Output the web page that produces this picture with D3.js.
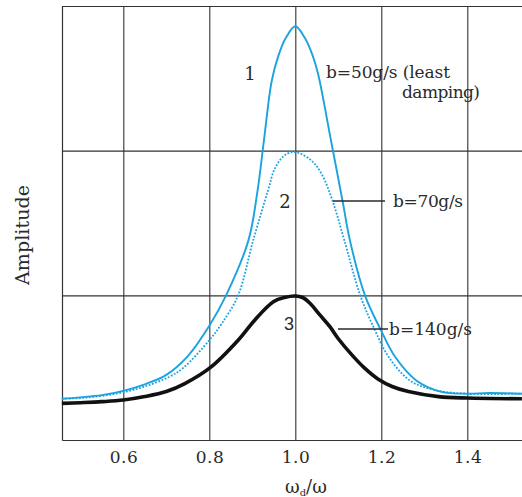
<!DOCTYPE html>
<html><head><meta charset="utf-8">
<script src="https://cdn.jsdelivr.net/npm/d3@7"></script>
<style>
body{margin:0;background:#fff}svg{display:block}
.srf{font-family:"DejaVu Serif","Liberation Serif","Noto Serif","Times New Roman",Times,serif}
</style>
</head><body>
<svg id="c" width="522" height="497"></svg>
<script>
// ---- data ----
const xTicks = [0.6, 0.8, 1.0, 1.2, 1.4];
const yGrid = [1, 2, 3];
const xLabels = ["0.6", "0.8", "1.0", "1.2", "1.4"];

// curve 1: b = 50 g/s (solid blue)
const x1 = [0.457,0.5,0.55,0.6,0.65,0.7,0.75,0.8,0.839,0.891,0.912,0.927,0.945,0.96,0.978,1.0,1.022,1.04,1.053,1.083,1.110,1.127,1.162,1.199,1.232,1.282,1.340,1.4,1.45,1.527];
const y1 = [0.285,0.295,0.31,0.34,0.385,0.45,0.58,0.79,1.0,1.38,1.72,2.07,2.48,2.65,2.78,2.86,2.78,2.66,2.53,2.07,1.65,1.38,1.0,0.76,0.575,0.41,0.333,0.32,0.325,0.32];

// curve 2: b = 70 g/s (dotted blue)
const x2 = [0.457,0.5,0.55,0.6,0.65,0.709,0.74,0.80,0.829,0.867,0.902,0.936,0.953,0.976,1.0,1.038,1.061,1.087,1.114,1.151,1.185,1.217,1.267,1.325,1.4,1.527];
const y2 = [0.285,0.29,0.305,0.33,0.37,0.44,0.50,0.69,0.805,1.0,1.38,1.72,1.88,1.97,1.99,1.93,1.84,1.65,1.38,1.0,0.76,0.575,0.41,0.345,0.32,0.32];

// curve 3: b = 140 g/s (thick black)
const x3 = [0.457,0.5,0.55,0.6,0.65,0.7,0.743,0.802,0.867,0.906,0.949,0.975,1.0,1.017,1.034,1.057,1.08,1.10,1.131,1.16,1.193,1.225,1.263,1.333,1.4,1.527];
const y3 = [0.253,0.258,0.265,0.276,0.30,0.335,0.39,0.50,0.69,0.83,0.955,0.985,0.995,0.985,0.945,0.865,0.785,0.70,0.59,0.50,0.42,0.37,0.335,0.30,0.29,0.285];

// ---- layout ----
const svg = d3.select("#c");
const L = 62, R = 522, T = 6, B = 440;
const x = d3.scaleLinear().domain([0.4574, 1.5272]).range([L, R]);
const y = d3.scaleLinear().domain([0, 3]).range([B, T]);
const blue = "#1aa3df";
const ink = "#2a2a2a";

// grid / axes
const gx = svg.append("g").attr("transform", `translate(0,${B})`)
  .call(d3.axisBottom(x).tickValues(xTicks).tickFormat((d,i)=>xLabels[i])
    .tickSize(-(B - T)).tickSizeOuter(0).tickPadding(10));
gx.attr("font-family", null);
gx.select(".domain").attr("stroke", "#333").attr("stroke-width", 1.2);
gx.selectAll(".tick line").attr("stroke", "#333").attr("stroke-width", 1.1);
gx.selectAll(".tick text").attr("class", "srf").attr("font-size", 17).attr("fill", ink)
  .attr("dy", "0.75em").attr("textLength", 28).attr("lengthAdjust", "spacing");

const gy = svg.append("g").attr("transform", `translate(${L},0)`)
  .call(d3.axisLeft(y).tickValues(yGrid).tickFormat("").tickSize(-(R - L)).tickSizeOuter(0));
gy.select(".domain").attr("stroke", "#333").attr("stroke-width", 1.2);
gy.selectAll(".tick line").attr("stroke", "#333").attr("stroke-width", 1.1);

// curves
const line = d3.line().curve(d3.curveCatmullRom.alpha(0.5)).x(d => x(d[0])).y(d => y(d[1]));
const pts = (xs, ys) => xs.map((v, i) => [v, ys[i]]);

svg.append("path").attr("d", line(pts(x2, y2))).attr("fill", "none")
  .attr("stroke", blue).attr("stroke-width", 1.8).attr("stroke-dasharray", "1.8,1.6");
svg.append("path").attr("d", line(pts(x1, y1))).attr("fill", "none")
  .attr("stroke", blue).attr("stroke-width", 1.9);
svg.append("path").attr("d", line(pts(x3, y3))).attr("fill", "none")
  .attr("stroke", "#111").attr("stroke-width", 3.6);

// leader lines
svg.append("line").attr("x1", 333).attr("x2", 385).attr("y1", 201).attr("y2", 201).attr("stroke", ink).attr("stroke-width", 1.6);
svg.append("line").attr("x1", 338).attr("x2", 388).attr("y1", 329).attr("y2", 329).attr("stroke", ink).attr("stroke-width", 1.6);

// texts
const txt = (s, tx, ty, opts = {}) => {
  const t = svg.append("text").attr("x", tx).attr("y", ty)
    .attr("font-size", opts.size || 17)
    .attr("fill", ink).attr("text-anchor", opts.anchor || "start").text(s);
  if (opts.sans) t.attr("font-family", "'Liberation Sans', Arial, sans-serif");
  else t.attr("class", "srf");
  if (opts.len) t.attr("textLength", opts.len).attr("lengthAdjust", "spacing");
  return t;
};

txt("1", 250, 80, {size: 18, anchor: "middle"});
txt("2", 285, 208, {size: 18, anchor: "middle"});
txt("3", 289, 330, {size: 18, anchor: "middle", sans: true});
txt("b=50g/s (least", 326, 78, {len: 124});
txt("damping)", 402, 98, {len: 78});
txt("b=70g/s", 393, 207, {len: 70});
txt("b=140g/s", 389, 335, {len: 83});

svg.append("text").attr("class", "srf").attr("transform", "translate(29,235) rotate(-90)")
  .attr("font-size", 19).attr("fill", ink)
  .attr("text-anchor", "middle").attr("textLength", 100).attr("lengthAdjust", "spacing")
  .text("Amplitude");

const xl = svg.append("text").attr("class", "srf").attr("x", 285).attr("y", 493)
  .attr("font-size", 18).attr("fill", ink);
xl.append("tspan").text("ω");
xl.append("tspan").attr("font-size", 10).attr("dy", 3).text("d");
xl.append("tspan").attr("dy", -3).text("/ω");
</script>
</body></html>
